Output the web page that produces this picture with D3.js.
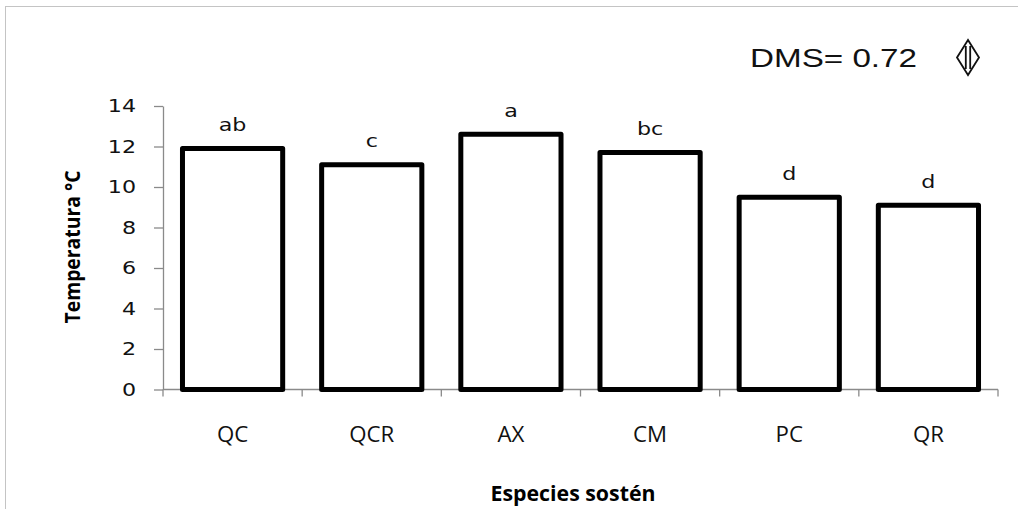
<!DOCTYPE html>
<html>
<head>
<meta charset="utf-8">
<script src="https://cdn.jsdelivr.net/npm/d3@7"></script>
<style>
  html, body { margin: 0; padding: 0; background: #fff; }
  svg { display: block; }
</style>
</head>
<body>
<svg id="chart" width="1018" height="509"></svg>
<script>
// Temperature by support species, with mean-separation letters
const categories = ["QC", "QCR", "AX", "CM", "PC", "QR"];
const temperatures = [11.9, 11.1, 12.6, 11.7, 9.5, 9.1];
const groupLetters = ["ab", "c", "a", "bc", "d", "d"];
const yTickValues = [0, 2, 4, 6, 8, 10, 12, 14];
const dmsValue = 0.72;

const SX = 1.2; // horizontal widening applied to the text glyphs
const axisColor = "#8a8a8a";
const humanist = "'Open Sans', 'Noto Sans', sans-serif";
const rounded = "'DejaVu Sans', Verdana, sans-serif";

const svg = d3.select("#chart");

// frame around the chart area
svg.append("rect")
  .attr("x", 5.5).attr("y", 6.5)
  .attr("width", 1100).attr("height", 600)
  .attr("fill", "none").attr("stroke", "#c4c4c4").attr("stroke-width", 1);

const plot = { left: 163, right: 998, top: 106, bottom: 389.5 };

const y = d3.scaleLinear().domain([0, 14]).range([plot.bottom, plot.top]);
const x = d3.scaleBand()
  .domain(categories)
  .range([plot.left, plot.right])
  .paddingInner(0.28)
  .paddingOuter(0.14);

// y axis
const yAxis = svg.append("g")
  .attr("transform", `translate(${plot.left},0)`)
  .call(d3.axisLeft(y).tickValues(yTickValues).tickSize(9).tickSizeOuter(0));
yAxis.select(".domain").attr("stroke", axisColor).attr("stroke-width", 1.3);
yAxis.selectAll(".tick line").attr("stroke", axisColor).attr("stroke-width", 1.3);
yAxis.selectAll(".tick text")
  .attr("x", -27 / SX)
  .attr("transform", `scale(${SX},1)`)
  .attr("fill", "#111")
  .style("font-family", rounded)
  .style("font-size", "18.5px");

// x axis: labels centred in each band, ticks on the band boundaries
const xAxis = svg.append("g")
  .attr("transform", `translate(0,${y(0)})`)
  .call(d3.axisBottom(x).tickSize(0).tickPadding(0).tickSizeOuter(0));
xAxis.select(".domain").remove();
xAxis.selectAll(".tick text")
  .attr("y", 0).attr("dy", 0)
  .attr("transform", "translate(0,52) scale(1.06,1)")
  .attr("fill", "#111")
  .style("font-family", humanist)
  .style("font-size", "21px");

svg.append("line")
  .attr("x1", plot.left).attr("x2", plot.right)
  .attr("y1", y(0)).attr("y2", y(0))
  .attr("stroke", axisColor).attr("stroke-width", 1.3);

const edges = d3.range(categories.length + 1)
  .map(i => x.range()[0] + i * x.step());
svg.append("g").selectAll("line")
  .data(edges)
  .join("line")
  .attr("x1", d => d).attr("x2", d => d)
  .attr("y1", y(0)).attr("y2", y(0) + 7)
  .attr("stroke", axisColor).attr("stroke-width", 1.3);

// bars
svg.append("g").selectAll("rect")
  .data(categories)
  .join("rect")
  .attr("x", d => x(d))
  .attr("width", x.bandwidth())
  .attr("y", (d, i) => y(temperatures[i]))
  .attr("height", (d, i) => y(0) - y(temperatures[i]))
  .attr("fill", "#fff")
  .attr("stroke", "#000")
  .attr("stroke-width", 5)
  .attr("stroke-linejoin", "round");

// significance letters above each bar
svg.append("g").selectAll("text")
  .data(categories)
  .join("text")
  .attr("transform", (d, i) =>
    `translate(${x(d) + x.bandwidth() / 2},${y(temperatures[i]) - 17.5}) scale(${SX},1)`)
  .attr("text-anchor", "middle")
  .attr("fill", "#111")
  .style("font-family", rounded)
  .style("font-size", "18.5px")
  .text((d, i) => groupLetters[i]);

// axis titles
svg.append("text")
  .attr("transform", `translate(80,247) rotate(-90)`)
  .attr("text-anchor", "middle")
  .attr("fill", "#000")
  .attr("textLength", 153)
  .attr("lengthAdjust", "spacingAndGlyphs")
  .style("font-family", humanist)
  .style("font-weight", "bold")
  .style("font-size", "21px")
  .text("Temperatura °C");

svg.append("text")
  .attr("x", 573).attr("y", 501)
  .attr("text-anchor", "middle")
  .attr("fill", "#000")
  .attr("textLength", 165)
  .attr("lengthAdjust", "spacingAndGlyphs")
  .style("font-family", humanist)
  .style("font-weight", "bold")
  .style("font-size", "21px")
  .text("Especies sostén");

// least significant difference note with its double arrow
svg.append("text")
  .attr("x", 750).attr("y", 67)
  .attr("fill", "#111")
  .attr("textLength", 167)
  .attr("lengthAdjust", "spacingAndGlyphs")
  .style("font-family", "'Liberation Sans', Arial, sans-serif")
  .style("font-size", "26.5px")
  .text(`DMS= ${dmsValue.toFixed(2)}`);

const arrow = svg.append("g")
  .attr("fill", "none").attr("stroke", "#111").attr("stroke-width", 1.8)
  .attr("stroke-linejoin", "miter");
arrow.append("path").attr("d", "M968,40 L957,57.5 L968,75 L979,57.5 Z");
arrow.append("path").attr("d", "M965.8,46 V69 M970.2,46 V69");
</script>
</body>
</html>
